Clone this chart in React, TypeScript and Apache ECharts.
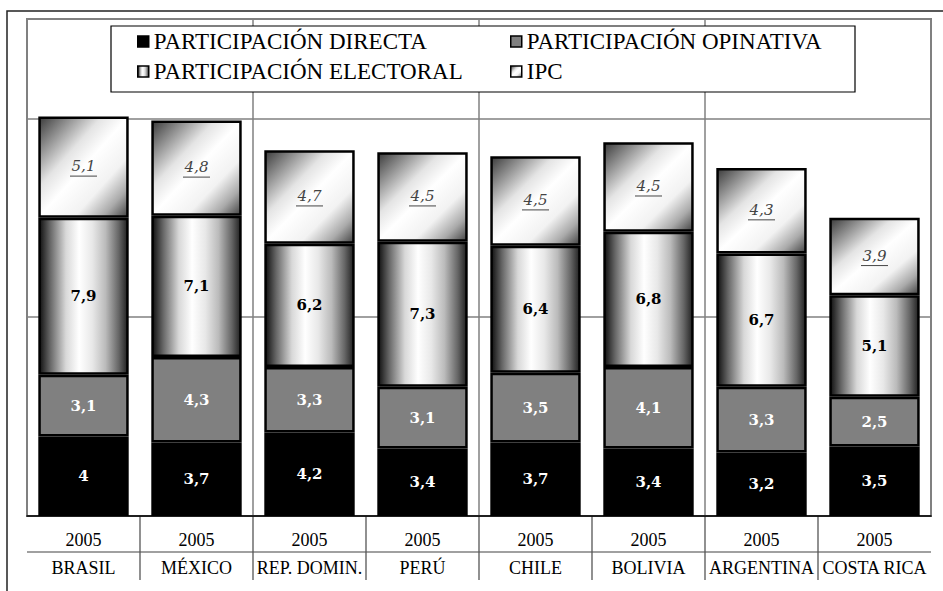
import React, { useEffect, useRef } from 'react';
import * as echarts from 'echarts';

const countries = ['BRASIL', 'MÉXICO', 'REP. DOMIN.', 'PERÚ', 'CHILE', 'BOLIVIA', 'ARGENTINA', 'COSTA RICA'];
const years = ['2005', '2005', '2005', '2005', '2005', '2005', '2005', '2005'];
const directa = [4, 3.7, 4.2, 3.4, 3.7, 3.4, 3.2, 3.5];
const opinativa = [3.1, 4.3, 3.3, 3.1, 3.5, 4.1, 3.3, 2.5];
const electoral = [7.9, 7.1, 6.2, 7.3, 6.4, 6.8, 6.7, 5.1];
const ipc = [5.1, 4.8, 4.7, 4.5, 4.5, 4.5, 4.3, 3.9];
const seriesNames = ['PARTICIPACIÓN DIRECTA', 'PARTICIPACIÓN OPINATIVA', 'PARTICIPACIÓN ELECTORAL', 'IPC'];

const fmt = (v: number) => String(v).replace('.', ',');

export default function App() {
  const ref = useRef<HTMLDivElement>(null);
  useEffect(() => {
    const chart = echarts.init(ref.current!, null, { renderer: 'svg' });
    const SERIF = 'serif';
    const LABEL = 'DejaVu Serif';
    const electoralFill = new echarts.graphic.LinearGradient(0, 0, 1, 0, [
      { offset: 0, color: '#111111' },
      { offset: 0.12, color: '#666666' },
      { offset: 0.3, color: '#d8d8d8' },
      { offset: 0.45, color: '#ffffff' },
      { offset: 0.6, color: '#e8e8e8' },
      { offset: 0.75, color: '#bbbbbb' },
      { offset: 0.9, color: '#666666' },
      { offset: 1, color: '#222222' },
    ]);
    const ipcFill = new echarts.graphic.LinearGradient(0, 0, 1, 1, [
      { offset: 0, color: '#3c3c3c' },
      { offset: 0.35, color: '#e4e4e4' },
      { offset: 0.5, color: '#ffffff' },
      { offset: 0.7, color: '#f2f2f2' },
      { offset: 0.86, color: '#aaaaaa' },
      { offset: 1, color: '#444444' },
    ]);
    const border = { borderColor: '#000', borderWidth: 2.5 };
    const legendCommon = {
      selectedMode: false,
      padding: 0,
      itemWidth: 11,
      itemHeight: 11,
      icon: 'rect',
      z: 10,
      itemStyle: { borderWidth: 1.5, borderColor: '#000' },
      textStyle: { fontFamily: SERIF, fontSize: 23, color: '#000' },
    };
    const baseLabel = {
      show: true,
      position: 'inside',
      fontFamily: LABEL,
      fontSize: 15,
      textBorderWidth: 0,
      formatter: (p: any) => fmt(p.value),
    };
    chart.setOption({
      animation: false,
      backgroundColor: '#ffffff',
      textStyle: { fontFamily: SERIF },
      grid: { left: 27, right: 12, top: 19, bottom: 75, show: true, borderColor: '#808080', borderWidth: 2 },
      legend: [
        { ...legendCommon, data: [seriesNames[0]], left: 137, top: 30 },
        { ...legendCommon, data: [seriesNames[1]], left: 510, top: 30 },
        { ...legendCommon, data: [seriesNames[2]], left: 137, top: 60 },
        { ...legendCommon, data: [seriesNames[3]], left: 510, top: 60 },
      ],
      xAxis: {
        type: 'category',
        data: countries,
        z: 3,
        axisLine: { show: true, lineStyle: { color: '#000', width: 1.5 } },
        axisTick: { show: false },
        axisLabel: {
          interval: 0,
          margin: 13,
          formatter: (v: string, i: number) => `{y|${years[i]}}\n{c|${v}}`,
          rich: {
            y: { fontFamily: SERIF, fontSize: 18, lineHeight: 22, color: '#000' },
            c: { fontFamily: SERIF, fontSize: 18, lineHeight: 34, color: '#000' },
          },
        },
        splitLine: {
          show: true,
          interval: (i: number) => i > 0 && i % 2 === 0,
          lineStyle: { color: '#808080', width: 1.5 },
        },
      },
      yAxis: {
        type: 'value',
        min: 0,
        max: 25,
        interval: 10,
        axisLabel: { show: false },
        axisLine: { show: false },
        axisTick: { show: false },
        splitLine: { show: true, lineStyle: { color: '#808080', width: 1.5 } },
      },
      series: [
        {
          name: seriesNames[0], type: 'bar', stack: 't', barWidth: '80%', data: directa,
          itemStyle: { color: '#000000', ...border },
          label: { ...baseLabel, color: '#ffffff', fontWeight: 'bold' },
        },
        {
          name: seriesNames[1], type: 'bar', stack: 't', barWidth: '80%', data: opinativa,
          itemStyle: { color: '#808080', ...border },
          label: { ...baseLabel, color: '#ffffff', fontWeight: 'bold' },
        },
        {
          name: seriesNames[2], type: 'bar', stack: 't', barWidth: '80%', data: electoral,
          itemStyle: { color: electoralFill, ...border },
          label: { ...baseLabel, color: '#000000', fontWeight: 'bold' },
        },
        {
          name: seriesNames[3], type: 'bar', stack: 't', barWidth: '80%', data: ipc,
          itemStyle: { color: ipcFill, ...border },
          label: {
            ...baseLabel,
            formatter: (p: any) => `{v|${fmt(p.value)}}\n{u| }`,
            rich: {
              v: { fontFamily: LABEL, fontStyle: 'italic', fontSize: 15, color: '#444444', lineHeight: 18 },
              u: { width: 27, height: 1, lineHeight: 2, fontSize: 1, backgroundColor: '#444444' },
            },
          },
        },
      ],
    });

    const x0 = chart.convertToPixel({ xAxisIndex: 0 }, countries[0]) as number;
    const x1 = chart.convertToPixel({ xAxisIndex: 0 }, countries[1]) as number;
    const band = x1 - x0;
    const left = x0 - band / 2;
    const right = left + band * countries.length;
    const yBottom = chart.convertToPixel({ yAxisIndex: 0 }, 0) as number;
    const graphics: any[] = [
      {
        type: 'polyline', z: 1, silent: true,
        shape: { points: [[7, 591], [7, 11], [943, 11]] },
        style: { stroke: '#222', lineWidth: 1.5, fill: 'none' },
      },
      {
        type: 'rect', z: 5, silent: true,
        shape: { x: 111, y: 26, width: 744, height: 66 },
        style: { fill: '#ffffff', stroke: '#000', lineWidth: 1.2 },
      },
      {
        type: 'line', z: 1, silent: true,
        shape: { x1: left, y1: yBottom + 36, x2: right, y2: yBottom + 36 },
        style: { stroke: '#808080', lineWidth: 1.5 },
      },
    ];
    for (let i = 1; i < countries.length; i++) {
      const x = left + band * i;
      graphics.push({
        type: 'line', z: 1, silent: true,
        shape: { x1: x, y1: yBottom, x2: x, y2: yBottom + 64 },
        style: { stroke: '#555555', lineWidth: 1.3 },
      });
    }
    chart.setOption({ graphic: graphics });

    return () => chart.dispose();
  }, []);
  return <div ref={ref} style={{ position: 'absolute', left: 0, top: 0, width: 943, height: 591 }} />;
}
